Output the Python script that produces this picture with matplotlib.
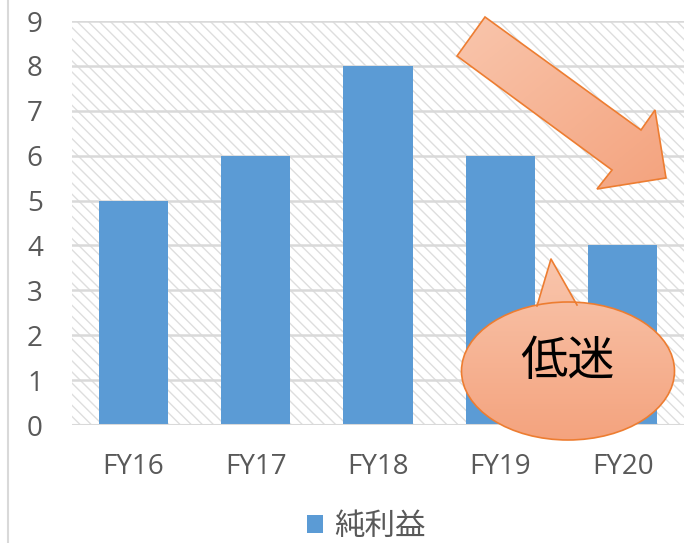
import numpy as np
import matplotlib.pyplot as plt
from matplotlib.patches import Polygon, Ellipse
from matplotlib.colors import LinearSegmentedColormap

plt.rcParams['font.family'] = ['Open Sans', 'Noto Sans CJK JP', 'DejaVu Sans']
plt.rcParams['hatch.color'] = '#dedede'
plt.rcParams['hatch.linewidth'] = 1.0

# data
years = ['FY16', 'FY17', 'FY18', 'FY19', 'FY20']
profit = [5, 6, 8, 6, 4]
yticks = list(range(0, 10))
series_name = '純利益'
note = '低迷'

W, H = 686, 543
fig = plt.figure(figsize=(W / 100, H / 100), dpi=100)

ax = fig.add_axes([72 / W, 1 - 425 / H, 612 / W, 404 / H])
ax.set_xlim(-0.5, len(years) - 0.5)
ax.set_ylim(0, 9)

# hatched background
bg = plt.Rectangle((0, 0), 1, 1, transform=ax.transAxes, facecolor='white',
                   edgecolor='#dedede', hatch='\\\\\\', lw=0, zorder=0)
ax.add_patch(bg)

for y in yticks[1:]:
    ax.axhline(y, color='#d9d9d9', lw=1.8, zorder=1)
ax.axhline(0, color='#d9d9d9', lw=2.2, zorder=3)

bars = ax.bar(range(len(years)), profit, width=0.565, color='#5b9bd5', zorder=2,
              label=series_name)

for s in ax.spines.values():
    s.set_visible(False)
ax.set_yticks(yticks)
ax.set_xticks(range(len(years)))
ax.set_xticklabels(years)
ax.tick_params(length=0, labelsize=20, colors='#595959')
ax.tick_params(axis='y', pad=21)
ax.tick_params(axis='x', pad=20)

leg = fig.legend(handles=[bars], labels=[series_name], loc='center',
                 bbox_to_anchor=(366 / W, 1 - 527 / H), frameon=False,
                 fontsize=22, handlelength=0.55, handleheight=0.55, handletextpad=0.35)
for t in leg.get_texts():
    t.set_color('#595959')

# overlay in pixel coordinates for the decorations
ov = fig.add_axes([0, 0, 1, 1], facecolor='none')
ov.set_xlim(0, W)
ov.set_ylim(H, 0)
ov.axis('off')

# left chart border
ov.plot([8, 8], [0, H], color='#d9d9d9', lw=1.5)

cmap = LinearSegmentedColormap.from_list('sal', ['#f9c6ad', '#f4a37e'])

# arrow
arrow_pts = [(485, 17), (641, 130), (655, 110), (666, 178), (597, 189),
             (612, 170), (457, 56)]
arrow = Polygon(arrow_pts, closed=True, facecolor='none', edgecolor='#ed7d31',
                lw=1.2, zorder=5)
ov.add_patch(arrow)
xx, yy = np.meshgrid(np.linspace(0, 1, 100), np.linspace(0, 1, 100))
im = ov.imshow(xx + yy, cmap=cmap, extent=(455, 668, 190, 15), zorder=4,
               aspect='auto')
im.set_clip_path(arrow)

# callout bubble
ell_patch = Ellipse((568, 371), 213, 138, facecolor='none', edgecolor='#ed7d31',
                    lw=1.2, zorder=7)
ov.add_patch(ell_patch)
tail = [(537, 306), (551, 259), (577, 305)]
ov.plot([537, 551, 577], [306, 259, 305], color='#ed7d31', lw=1.2, zorder=7)
grad = np.linspace(0, 1, 100)[:, None] * np.ones((1, 10))
im2 = ov.imshow(grad, cmap=cmap, extent=(460, 677, 442, 257), zorder=6, aspect='auto')
im2.set_clip_path(ell_patch)
tail_patch = Polygon(tail, closed=True, facecolor='none', edgecolor='none', zorder=6)
ov.add_patch(tail_patch)
im3 = ov.imshow(grad, cmap=cmap, extent=(460, 677, 442, 257), zorder=6.5, aspect='auto')
im3.set_clip_path(tail_patch)

ov.text(567, 362, note, fontsize=34, ha='center', va='center', color='black',
        family=['Noto Sans CJK JP'], zorder=8)

fig.savefig('out.png', dpi=100)
